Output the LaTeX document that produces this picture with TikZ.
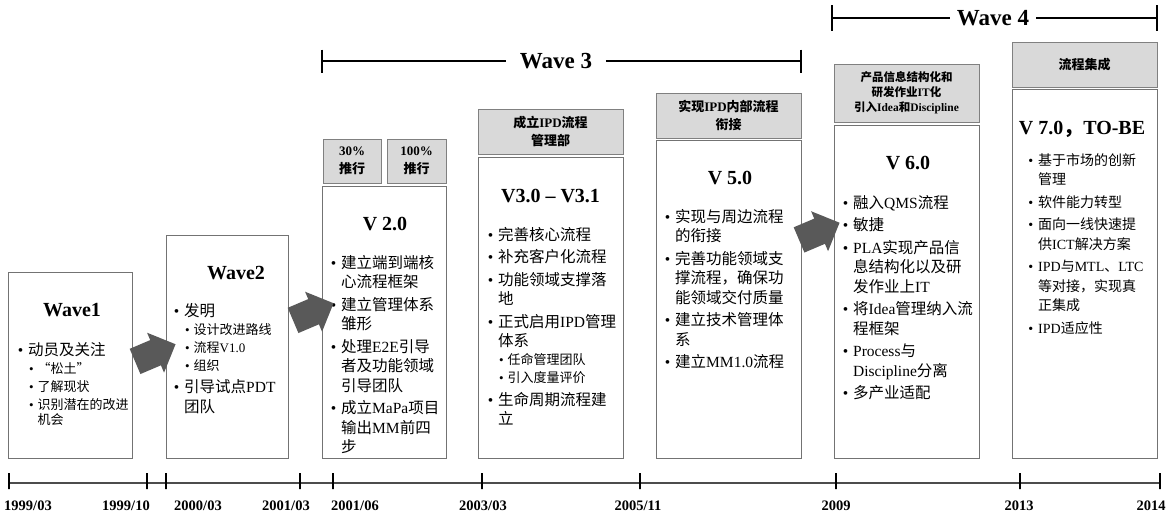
\documentclass[tikz,border=0pt]{standalone}
\usepackage{fontspec}
\setmainfont{Liberation Serif}
\newfontfamily\cjk{Noto Sans CJK SC}
\usetikzlibrary{shapes.arrows}
\newcommand\lat[1]{{\rmfamily #1}}
\newcommand\itm[1]{{\parskip=3pt\noindent\llap{\lat{•}\hspace{5pt}}#1\par}}
\newcommand\sitm[1]{{\parskip=3pt\fontsize{13}{15}\selectfont\leftskip=9.5pt\noindent\llap{\lat{•}\hspace{4pt}}#1\par}}

\begin{document}
\begin{tikzpicture}
    [
        x=1pt, y=-1pt,
        bodybox/.style={rectangle, draw=black!55, line width=1pt, inner sep=0},
        headbox/.style={rectangle, draw=black!50, fill=black!15, line width=1pt, inner sep=0, align=center, font=\cjk\bfseries\fontsize{13}{18.5}\selectfont},
        boxtitle/.style={anchor=base, inner sep=0, font=\bfseries\fontsize{20}{24}\selectfont},
        itemlist/.style={anchor=base west, inner sep=0, text width=150pt, align=left, font=\cjk\fontsize{15.5}{19.5}\selectfont},
        bigarrow/.style={single arrow, fill=black!65, minimum height=44pt, inner xsep=0, inner ysep=13.5pt, single arrow head extend=8pt, rotate=23},
        wavelabel/.style={inner ysep=0, font=\bfseries\fontsize{23}{27}\selectfont},
        bracket/.style={line width=1.2pt},
        bracketend/.style={line width=2pt},
        timeaxis/.style={draw=black!70, line width=2.5pt},
        datetick/.style={rectangle, draw=black, line width=2pt, minimum width=0pt, minimum height=16pt, inner sep=0},
        datelabel/.style={inner sep=0, font=\bfseries\fontsize{14.5}{17}\selectfont},
    ]
    \useasboundingbox (0,0) rectangle (1170,515);

    % stage boxes
    \node (wave1 box) at (70,365) [bodybox, minimum width=124, minimum height=186] {};
    \node (wave2 box) at (227,346.5) [bodybox, minimum width=122, minimum height=223] {};
    \node (v2 box) at (384,322) [bodybox, minimum width=124, minimum height=272] {};
    \node (v3 box) at (550.5,307.5) [bodybox, minimum width=145, minimum height=301] {};
    \node (v5 box) at (728.5,299) [bodybox, minimum width=145, minimum height=318] {};
    \node (v6 box) at (906.5,291.5) [bodybox, minimum width=145, minimum height=333] {};
    \node (v7 box) at (1084.5,273.5) [bodybox, minimum width=145, minimum height=369] {};

    % grey headers
    \node (v2 head a) at (352,161) [headbox, minimum width=58, minimum height=44] {\lat{30\%}\\推行};
    \node (v2 head b) at (416.5,161) [headbox, minimum width=59, minimum height=44] {\lat{100\%}\\推行};
    \node (v3 head) at (550.5,131.5) [headbox, minimum width=145, minimum height=45] {成立\lat{IPD}流程\\管理部};
    \node (v5 head) at (728.5,115.5) [headbox, minimum width=145, minimum height=45] {实现\lat{IPD}内部流程\\衔接};
    \node (v6 head) at (906.5,93) [headbox, minimum width=145, minimum height=58, font=\cjk\bfseries\fontsize{11.5}{15}\selectfont] {产品信息结构化和\\研发作业\lat{IT}化\\引入\lat{Idea}和\lat{Discipline}};
    \node (v7 head) at (1084.5,64.5) [headbox, minimum width=145, minimum height=45] {流程集成};

    % titles
    \node (wave1 title) at (72,316.6) [boxtitle] {Wave1};
    \node (wave2 title) at (236,279.6) [boxtitle] {Wave2};
    \node (v2 title) at (385,230.6) [boxtitle] {V 2.0};
    \node (v3 title) at (550.5,202.6) [boxtitle] {V3.0 – V3.1};
    \node (v5 title) at (730,184.6) [boxtitle] {V 5.0};
    \node (v6 title) at (908,169.6) [boxtitle] {V 6.0};
    \node (v7 title) at (1082,134.6) [boxtitle] {V 7.0{\cjk ，}TO-BE};

    % bullet lists
    \node (wave1 list) at (28,355) [itemlist] {%
        \itm{动员及关注}\sitm{“松土”}\sitm{了解现状}\sitm{识别潜在的改进\newline 机会}};
    \node (wave2 list) at (184,316) [itemlist] {%
        \itm{发明}\sitm{设计改进路线}\sitm{流程\lat{V1.0}}\sitm{组织}%
        \itm{引导试点\lat{PDT}\newline 团队}};
    \node (v2 list) at (341,268) [itemlist] {%
        \itm{建立端到端核\newline 心流程框架}\itm{建立管理体系\newline 雏形}%
        \itm{处理\lat{E2E}引导\newline 者及功能领域\newline 引导团队}%
        \itm{成立\lat{MaPa}项目\newline 输出\lat{MM}前四\newline 步}};
    \node (v3 list) at (498,240) [itemlist] {%
        \itm{完善核心流程}\itm{补充客户化流程}\itm{功能领域支撑落\newline 地}%
        \itm{正式启用\lat{IPD}管理\newline 体系}\sitm{任命管理团队}\sitm{引入度量评价}%
        \itm{生命周期流程建\newline 立}};
    \node (v5 list) at (675,222) [itemlist] {%
        \itm{实现与周边流程\newline 的衔接}\itm{完善功能领域支\newline 撑流程，确保功\newline 能领域交付质量}%
        \itm{建立技术管理体\newline 系}\itm{建立\lat{MM1.0}流程}};
    \node (v6 list) at (853,208) [itemlist] {%
        \itm{融入\lat{QMS}流程}\itm{敏捷}\itm{\lat{PLA}实现产品信\newline 息结构化以及研\newline 发作业上\lat{IT}}%
        \itm{将\lat{Idea}管理纳入流\newline 程框架}\itm{\lat{Process}与\newline \lat{Discipline}分离}\itm{多产业适配}};
    \node (v7 list) at (1038,165) [itemlist, font=\cjk\fontsize{14}{19.5}\selectfont] {%
        \itm{基于市场的创新\newline 管理}\itm{软件能力转型}\itm{面向一线快速提\newline 供\lat{ICT}解决方案}%
        \itm{\lat{IPD}与\lat{MTL}、\lat{LTC}\newline 等对接，实现真\newline 正集成}\itm{\lat{IPD}适应性}};

    % block arrows
    \node (arrow a) at (149,355.5) [bigarrow] {};
    \node (arrow b) at (307,314.5) [bigarrow] {};
    \node (arrow c) at (813,234) [bigarrow] {};

    % wave brackets
    \coordinate (wave3 start) at (322,61);
    \coordinate (wave3 end) at (801,61);
    \node (wave3) at (556,61) [wavelabel, inner xsep=13.5] {Wave 3};
    \draw[bracket] (wave3 start) -- (wave3.west);
    \draw[bracket] (wave3.east) -- (wave3 end);
    \draw[bracketend] (wave3 start) ++(0,-11.5) -- ++(0,23);
    \draw[bracketend] (wave3 end) ++(0,-11.5) -- ++(0,23);

    \coordinate (wave4 start) at (832,18);
    \coordinate (wave4 end) at (1157,18);
    \node (wave4) at (993,18) [wavelabel, inner xsep=7] {Wave 4};
    \draw[bracket] (wave4 start) -- (wave4.west);
    \draw[bracket] (wave4.east) -- (wave4 end);
    \draw[bracketend] (wave4 start) ++(0,-13) -- ++(0,26);
    \draw[bracketend] (wave4 end) ++(0,-13) -- ++(0,26);

    % time line
    \coordinate (axis start) at (9,483);
    \coordinate (axis end) at (1160,483);
    \draw[timeaxis] (axis start) -- (axis end);
    \node (tick 1999-03) at (9,481) [datetick] {};
    \node (tick 1999-10) at (147,481) [datetick] {};
    \node (tick 2000-03) at (166,481) [datetick] {};
    \node (tick 2001-03) at (300,481) [datetick] {};
    \node (tick 2001-06) at (333,481) [datetick] {};
    \node (tick 2003-03) at (482,481) [datetick] {};
    \node (tick 2005-11) at (640,481) [datetick] {};
    \node (tick 2009) at (836,481) [datetick] {};
    \node (tick 2013) at (1020,481) [datetick] {};
    \node (tick 2014) at (1160,481) [datetick] {};
    \node (date 1999-03) at (28,506) [datelabel] {1999/03};
    \node (date 1999-10) at (126,506) [datelabel] {1999/10};
    \node (date 2000-03) at (198,506) [datelabel] {2000/03};
    \node (date 2001-03) at (286,506) [datelabel] {2001/03};
    \node (date 2001-06) at (355,506) [datelabel] {2001/06};
    \node (date 2003-03) at (483,506) [datelabel] {2003/03};
    \node (date 2005-11) at (638,506) [datelabel] {2005/11};
    \node (date 2009) at (836,506) [datelabel] {2009};
    \node (date 2013) at (1019,506) [datelabel] {2013};
    \node (date 2014) at (1151,506) [datelabel] {2014};
\end{tikzpicture}
\end{document}
